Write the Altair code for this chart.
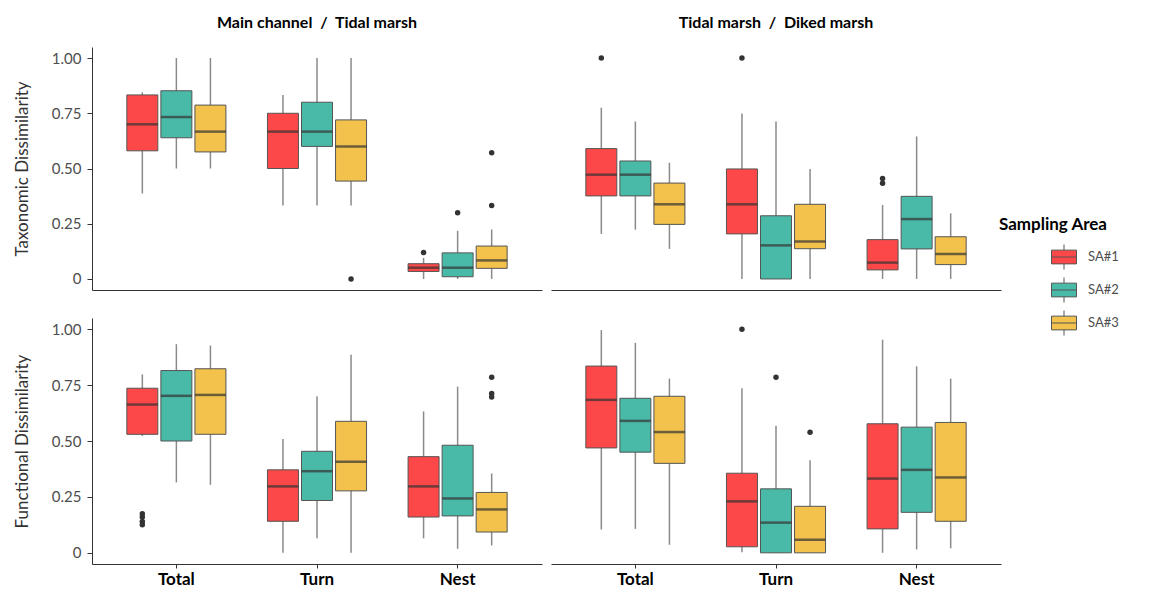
import altair as alt
import pandas as pd

metrics = ["Taxonomic Dissimilarity", "Functional Dissimilarity"]
comparisons = ["Main channel \u00a0/\u00a0 Tidal marsh", "Tidal marsh \u00a0/\u00a0 Diked marsh"]
components = ["Total", "Turn", "Nest"]
areas = ["SA#1", "SA#2", "SA#3"]
colors = ["#FC4848", "#4ABAA8", "#F2C24C"]

# order: metric -> comparison -> component -> area
lower = [
    # Taxonomic, MC/TM
    0.387, 0.50, 0.50,   0.333, 0.333, 0.333,   0.0, 0.0, 0.0,
    # Taxonomic, TM/DM
    0.204, 0.223, 0.136,  0.0, 0.0, 0.0,   0.0, 0.0, 0.0,
    # Functional, MC/TM
    0.522, 0.315, 0.304,  0.0, 0.065, 0.0,  0.065, 0.018, 0.033,
    # Functional, TM/DM
    0.104, 0.107, 0.036,  0.003, 0.0, 0.0,  0.0, 0.015, 0.02,
]
q1 = [
    0.58, 0.639, 0.575,   0.50, 0.60, 0.443,   0.034, 0.01, 0.048,
    0.376, 0.376, 0.247,  0.204, 0.0, 0.137,   0.041, 0.136, 0.065,
    0.53, 0.50, 0.53,     0.141, 0.234, 0.277, 0.16, 0.165, 0.093,
    0.469, 0.45, 0.40,    0.027, 0.0, 0.0,     0.107, 0.181, 0.141,
]
median = [
    0.70, 0.733, 0.667,   0.667, 0.667, 0.60,  0.051, 0.051, 0.084,
    0.472, 0.472, 0.338,  0.338, 0.152, 0.17,  0.074, 0.271, 0.113,
    0.663, 0.702, 0.706,  0.297, 0.365, 0.407, 0.297, 0.243, 0.194,
    0.684, 0.59, 0.54,    0.23, 0.135, 0.058,  0.332, 0.371, 0.337,
]
q3 = [
    0.833, 0.852, 0.787,  0.75, 0.80, 0.72,    0.069, 0.118, 0.149,
    0.59, 0.534, 0.434,   0.498, 0.286, 0.338, 0.178, 0.374, 0.191,
    0.736, 0.815, 0.823,  0.371, 0.454, 0.588, 0.43, 0.481, 0.27,
    0.835, 0.691, 0.70,   0.356, 0.286, 0.208, 0.577, 0.562, 0.583,
]
upper = [
    0.845, 1.0, 1.0,      0.833, 1.0, 1.0,     0.095, 0.218, 0.224,
    0.775, 0.713, 0.526,  0.749, 0.713, 0.498, 0.335, 0.645, 0.297,
    0.798, 0.933, 0.927,  0.509, 0.70, 0.886,  0.632, 0.743, 0.355,
    0.996, 0.939, 0.779,  0.736, 0.568, 0.414, 0.953, 0.834, 0.779,
]

# outliers
out_metric = [0, 0, 0, 0, 0,  0, 0, 0, 0,  1, 1, 1, 1, 1, 1, 1,  1, 1, 1]
out_comp   = [0, 0, 0, 0, 0,  1, 1, 1, 1,  0, 0, 0, 0, 0, 0, 0,  1, 1, 1]
out_component = ["Turn", "Nest", "Nest", "Nest", "Nest",
                 "Total", "Turn", "Nest", "Nest",
                 "Total", "Total", "Total", "Total", "Nest", "Nest", "Nest",
                 "Turn", "Turn", "Turn"]
out_area = ["SA#3", "SA#1", "SA#2", "SA#3", "SA#3",
            "SA#1", "SA#1", "SA#1", "SA#1",
            "SA#1", "SA#1", "SA#1", "SA#1", "SA#3", "SA#3", "SA#3",
            "SA#1", "SA#2", "SA#3"]
out_value = [0.0, 0.12, 0.30, 0.333, 0.571,
             1.0, 1.0, 0.455, 0.433,
             0.175, 0.16, 0.14, 0.125, 0.785, 0.712, 0.697,
             1.0, 0.785, 0.539]

rows = []
i = 0
for mi, m in enumerate(metrics):
    for ci, c in enumerate(comparisons):
        for comp in components:
            for a in areas:
                rows.append(dict(metric=m, comparison=c, component=comp, area=a,
                                 lower=lower[i], q1=q1[i], median=median[i],
                                 q3=q3[i], upper=upper[i]))
                i += 1
box_df = pd.DataFrame(rows)
out_df = pd.DataFrame(dict(
    metric=[metrics[k] for k in out_metric],
    comparison=[comparisons[k] for k in out_comp],
    component=out_component, area=out_area, value=out_value))

FONT = "Lato"
W = 450
HEIGHTS = [243, 246]

legend = alt.Legend(
    title="Sampling Area", orient="none", legendX=907, legendY=170,
    titleFontSize=17, titleFontWeight="bold", titleColor="black", titleFont=FONT,
    labelFontSize=13, labelColor="#4d4d4d", labelFont=FONT,
    symbolType="M-1,-0.55L1,-0.55L1,0.55L-1,0.55Z M-1,0L1,0 M0,-0.55L0,-1 M0,0.55L0,1",
    symbolSize=625, symbolStrokeColor="#555555", symbolStrokeWidth=1,
    symbolOffset=52, rowPadding=3, labelOffset=11, titlePadding=10,
)


def panel(mi, ci):
    m, c = metrics[mi], comparisons[ci]
    d = box_df[(box_df.metric == m) & (box_df.comparison == c)]
    o = out_df[(out_df.metric == m) & (out_df.comparison == c)]
    bottom = mi == 1
    left = ci == 0
    if bottom:
        xaxis = alt.Axis(title=None, labelAngle=0, labelFontSize=17, labelFontWeight="bold",
                         labelColor="black", labelFont=FONT, tickSize=4, labelPadding=3,
                         domainColor="#333333", tickColor="#333333")
    else:
        xaxis = alt.Axis(title=None, labels=False, ticks=False, domainColor="#333333")
    x = alt.X("component:N", sort=components,
              scale=alt.Scale(domain=components, paddingInner=0, paddingOuter=0.1),
              axis=xaxis)
    xo = alt.XOffset("area:N", sort=areas,
                     scale=alt.Scale(domain=areas, paddingInner=0.09, paddingOuter=0.61))
    if left:
        yaxis = alt.Axis(title=m, values=[0, 0.25, 0.5, 0.75, 1.0],
                         labelExpr="datum.value == 0 ? '0' : format(datum.value, '.2f')",
                         grid=False, tickSize=5, labelFontSize=15, labelColor="#4d4d4d",
                         labelFont=FONT, titleFont=FONT, titleFontSize=17,
                         titleFontWeight="normal", titleColor="#333333", titlePadding=20,
                         domainColor="#333333", tickColor="#333333", labelPadding=6)
    else:
        yaxis = None
    yscale = alt.Scale(domain=[-0.05, 1.05], nice=False, zero=False)

    def Y(field):
        return alt.Y(field, type="quantitative", scale=yscale, axis=yaxis)

    whisk = alt.Chart(d).mark_rule(color="#8a8a8a", strokeWidth=1.5).encode(
        x=x, xOffset=xo, y=Y("lower"), y2="upper")
    box = alt.Chart(d).mark_bar(stroke="#555555", strokeWidth=1, opacity=1).encode(
        x=x, xOffset=xo, y=Y("q1"), y2="q3",
        color=alt.Color("area:N", sort=areas,
                        scale=alt.Scale(domain=areas, range=colors), legend=legend))
    med = alt.Chart(d).mark_tick(color="#333333", thickness=2.5, size=31).encode(
        x=x, xOffset=xo, y=Y("median"))
    pts = alt.Chart(o).mark_circle(color="#333333", size=30, opacity=1).encode(
        x=x, xOffset=xo, y=Y("value"))
    props = dict(width=W, height=HEIGHTS[mi])
    if not bottom:
        props["title"] = alt.TitleParams(c, fontSize=16, fontWeight="bold", color="black",
                                         font=FONT, anchor="middle", offset=16)
    return alt.layer(whisk, box, med, pts).properties(**props)


top = alt.hconcat(panel(0, 0), panel(0, 1), spacing=9)
bot = alt.hconcat(panel(1, 0), panel(1, 1), spacing=9)
chart = alt.vconcat(top, bot, spacing=28).properties(
    padding={"left": 5, "right": 5, "top": 7, "bottom": 5}
).configure(
    background="white", font=FONT).configure_view(stroke=None, strokeWidth=0)

chart.save("out.html", embed_options={"renderer": "svg", "actions": False})
